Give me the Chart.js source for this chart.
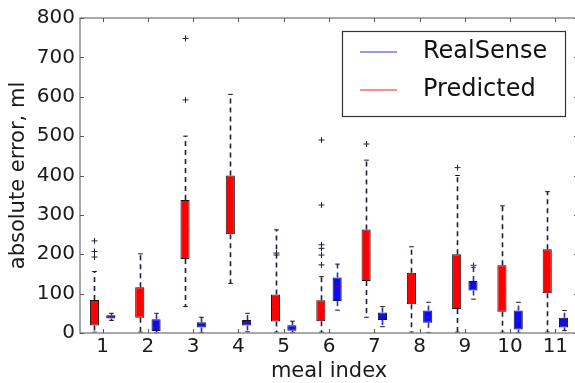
<!doctype html>
<html>
<head>
<meta charset="utf-8" />
<title>absolute error per meal</title>
<style>
  html, body { margin: 0; padding: 0; background: #fff; overflow: hidden; }
  #wrap { width: 580px; height: 383px; }
</style>
</head>
<body>
<div id="wrap"><canvas id="chart" width="580" height="383"></canvas></div>
<script src="https://cdn.jsdelivr.net/npm/chart.js@4.4.1/dist/chart.umd.min.js"></script>
<script>
// meal index categories
const meals = ['1', '2', '3', '4', '5', '6', '7', '8', '9', '10', '11'];
const yTicks = [0, 100, 200, 300, 400, 500, 600, 700, 800];

// Predicted (red boxes), values in ml
const predLow  = [2, 2, 67, 126, 2, 2, 40, 2, 2, 2, 2];
const predQ1   = [19, 39, 188, 251, 29, 30, 132, 73, 61, 54, 101];
const predMed  = [45, 70, 260, 330, 60, 55, 200, 110, 120, 110, 160];
const predQ3   = [84, 116, 338, 400, 98, 83, 263, 153, 200, 172, 213];
const predHigh = [156, 201, 500, 606, 262, 143, 439, 219, 400, 323, 359];
const predOut  = [[193, 207, 234], [], [592, 748], [], [198, 203], [173, 198, 215, 224, 325, 490], [480], [], [420], [], []];

// RealSense (blue boxes)
const rsLow  = [32, 1, 1, 3, 1, 58, 16, 1, 86, 1, 6];
const rsQ1   = [37, 5, 14, 19, 6, 81, 33, 26, 108, 9, 14];
const rsMed  = [42, 15, 20, 26, 13, 118, 43, 40, 120, 30, 25];
const rsQ3   = [45, 35, 27, 33, 20, 141, 52, 57, 132, 57, 39];
const rsHigh = [50, 50, 40, 50, 30, 175, 67, 78, 167, 78, 57];
const rsOut  = [[], [], [], [], [], [], [], [], [172], [], []];

const boxStats = [
  { low: predLow, med: predMed, high: predHigh, out: predOut, q1: predQ1, q3: predQ3,
    whisker: '#1c1c4a', median: '#ff0000', flier: '#222233' },
  { low: rsLow, med: rsMed, high: rsHigh, out: rsOut, q1: rsQ1, q3: rsQ3,
    whisker: '#2a2ab8', median: '#4a1a70', flier: '#2a2ab8' }
];

const FONT = '"DejaVu Sans", "Liberation Sans", sans-serif';

// whiskers, caps, medians, fliers drawn from bar elements + y scale
const boxExtras = {
  id: 'boxExtras',
  afterDatasetsDraw(chart) {
    const ctx = chart.ctx;
    const y = chart.scales.y;
    boxStats.forEach((s, d) => {
      const meta = chart.getDatasetMeta(d);
      meta.data.forEach((el, i) => {
        const x = Math.round(el.x) + 0.5;
        const w = el.width;
        const yQ1 = y.getPixelForValue(s.q1[i]);
        const yQ3 = y.getPixelForValue(s.q3[i]);
        const yLo = y.getPixelForValue(s.low[i]);
        const yHi = y.getPixelForValue(s.high[i]);
        ctx.save();
        ctx.strokeStyle = s.whisker;
        ctx.lineWidth = 1.6;
        ctx.setLineDash([5, 4]);
        ctx.beginPath();
        ctx.moveTo(x, yQ3); ctx.lineTo(x, yHi);
        ctx.moveTo(x, yQ1); ctx.lineTo(x, yLo);
        ctx.stroke();
        ctx.setLineDash([]);
        ctx.strokeStyle = '#111';
        ctx.lineWidth = 1;
        const cw = w * 0.25;
        ctx.beginPath();
        ctx.moveTo(x - cw, yHi); ctx.lineTo(x + cw, yHi);
        ctx.moveTo(x - cw, yLo); ctx.lineTo(x + cw, yLo);
        ctx.stroke();
        // median
        const yM = y.getPixelForValue(s.med[i]);
        ctx.strokeStyle = s.median;
        ctx.beginPath();
        ctx.moveTo(x - w / 2 + 1, yM); ctx.lineTo(x + w / 2 - 1, yM);
        ctx.stroke();
        // fliers
        ctx.strokeStyle = s.flier;
        s.out[i].forEach(v => {
          const py = y.getPixelForValue(v);
          ctx.beginPath();
          ctx.moveTo(x - 3, py); ctx.lineTo(x + 3, py);
          ctx.moveTo(x, py - 3); ctx.lineTo(x, py + 3);
          ctx.stroke();
        });
        ctx.restore();
      });
    });
  }
};

// frame with inward ticks on all four sides
const frame = {
  id: 'frame',
  afterDraw(chart) {
    const { ctx, chartArea: a, scales } = chart;
    ctx.save();
    ctx.strokeStyle = '#8c8c8c';
    ctx.lineWidth = 1.5;
    ctx.strokeRect(a.left, a.top, a.right - a.left, a.bottom - a.top);
    ctx.strokeStyle = '#555';
    ctx.lineWidth = 1;
    ctx.beginPath();
    scales.x.ticks.forEach((t, i) => {
      const px = Math.round(scales.x.getPixelForTick(i)) + 0.5;
      ctx.moveTo(px, a.bottom); ctx.lineTo(px, a.bottom - 4);
      ctx.moveTo(px, a.top); ctx.lineTo(px, a.top + 4);
    });
    scales.y.ticks.forEach((t, i) => {
      const py = Math.round(scales.y.getPixelForTick(i)) + 0.5;
      ctx.moveTo(a.left, py); ctx.lineTo(a.left + 4, py);
      ctx.moveTo(a.right, py); ctx.lineTo(a.right - 4, py);
    });
    ctx.stroke();
    ctx.restore();
  }
};

// legend box inside the plot, RealSense first like the original
const boxLegend = {
  id: 'boxLegend',
  afterDraw(chart) {
    const { ctx, chartArea: a } = chart;
    const right = a.right - 13, top = a.top + 13;
    const left = right - 223, bottom = top + 85;
    const items = [
      { text: chart.data.datasets[1].label, color: '#3333dd' },
      { text: chart.data.datasets[0].label, color: '#ee2222' }
    ];
    ctx.save();
    ctx.fillStyle = '#fff';
    ctx.fillRect(left, top, right - left, bottom - top);
    ctx.strokeStyle = '#333';
    ctx.lineWidth = 1.2;
    ctx.strokeRect(left + 0.5, top + 0.5, right - left, bottom - top);
    ctx.font = '24px ' + FONT;
    ctx.textBaseline = 'middle';
    ctx.fillStyle = '#111';
    items.forEach((it, k) => {
      const yy = top + 21 + k * 38;
      ctx.strokeStyle = it.color;
      ctx.lineWidth = 1.2;
      ctx.beginPath();
      ctx.moveTo(left + 18, yy); ctx.lineTo(left + 55, yy);
      ctx.stroke();
      ctx.fillText(it.text, left + 81, yy);
    });
    ctx.restore();
  }
};

new Chart(document.getElementById('chart').getContext('2d'), {
  type: 'bar',
  data: {
    labels: meals,
    datasets: [
      {
        label: 'Predicted',
        data: predQ1.map((q, i) => [q, predQ3[i]]),
        backgroundColor: '#ff0000',
        borderColor: '#111',
        borderWidth: 1,
        borderSkipped: false,
        categoryPercentage: 0.72,
        barPercentage: 0.56
      },
      {
        label: 'RealSense',
        data: rsQ1.map((q, i) => [q, rsQ3[i]]),
        backgroundColor: '#0a0af5',
        borderColor: '#10103a',
        borderWidth: 1,
        borderSkipped: false,
        categoryPercentage: 0.72,
        barPercentage: 0.56
      }
    ]
  },
  options: {
    responsive: false,
    animation: false,
    layout: { padding: { top: 18, right: 2, left: 0, bottom: 0 } },
    plugins: { legend: { display: false }, tooltip: { enabled: false } },
    scales: {
      x: {
        offset: true,
        grid: { display: false, drawTicks: false },
        border: { display: false },
        ticks: { color: '#1a1a1a', font: { family: FONT, size: 20 }, padding: 2 },
        title: { display: true, text: 'meal index', color: '#1a1a1a',
                 font: { family: FONT, size: 21, lineHeight: 1.05 }, padding: { top: 0, bottom: 0 } },
        afterFit: s => { s.height = 50; }
      },
      y: {
        min: 0,
        max: 800,
        afterBuildTicks: s => { s.ticks = yTicks.map(v => ({ value: v })); },
        grid: { display: false, drawTicks: false },
        border: { display: false },
        ticks: { color: '#1a1a1a', font: { family: FONT, size: 20 }, padding: 5 },
        title: { display: true, text: 'absolute error, ml', color: '#1a1a1a',
                 font: { family: FONT, size: 21 }, padding: { top: 6, bottom: 0 } },
        afterFit: s => { s.width = 80; }
      }
    }
  },
  plugins: [boxExtras, frame, boxLegend]
});
</script>
</body>
</html>
